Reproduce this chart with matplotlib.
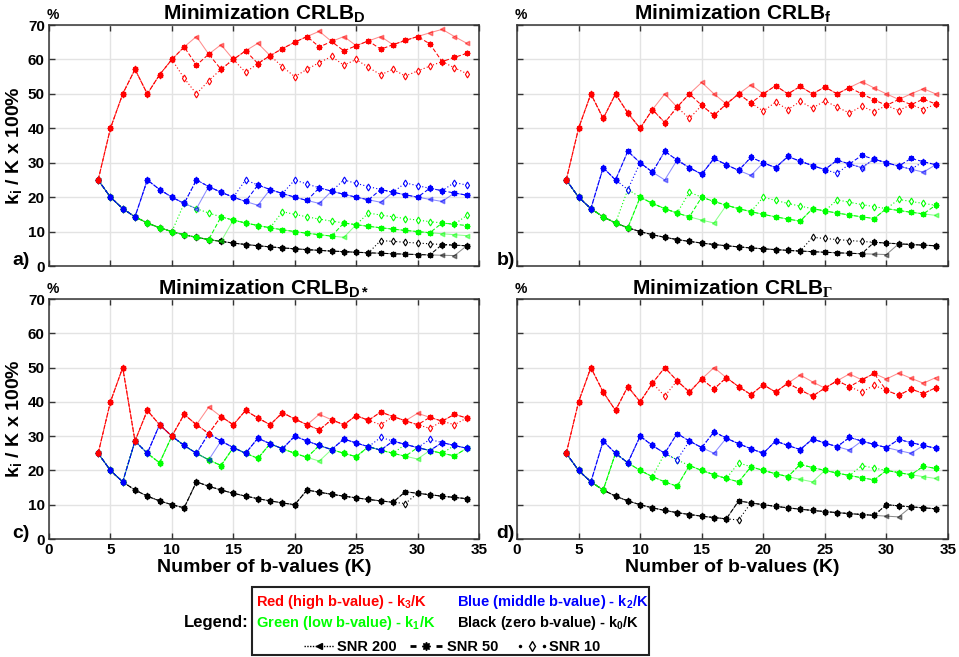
import numpy as np
import matplotlib
matplotlib.use('Agg')
import matplotlib.pyplot as plt
from matplotlib import font_manager
from matplotlib.patches import Rectangle

# number of b-values K on the x axis
K_values = list(range(4, 35))

# counts k_i of b-values per group (K = 4 ... 34)
# a) Minimization CRLB_D
a_red_200 = [1,2,3,4,4, 5,6,7,8,8, 9,9,10,11,11, 12,13,14,15,15, 16,16,17,18,18, 19,20,21,22,22, 22]
a_blue_200 = [1,1,1,1,2, 2,2,2,2,3, 3,3,3,3,4, 4,4,4,4,5, 5,5,5,5,6, 6,6,6,6,7, 7]
a_green_200 = [1,1,1,1,1, 1,1,1,1,1, 1,2,2,2,2, 2,2,2,2,2, 2,3,3,3,3, 3,3,3,3,3, 3]
a_black_200 = [1,1,1,1,1, 1,1,1,1,1, 1,1,1,1,1, 1,1,1,1,1, 1,1,1,1,1, 1,1,1,1,1, 2]
a_red_50 = [1,2,3,4,4, 5,6,7,7,8, 8,9,10,10,11, 12,13,14,14,15, 15,16,17,17,18, 19,20,20,19,20, 21]
a_blue_50 = [1,1,1,1,2, 2,2,2,3,3, 3,3,3,4,4, 4,4,4,5,5, 5,5,5,6,6, 6,6,7,7,7, 7]
a_green_50 = [1,1,1,1,1, 1,1,1,1,1, 2,2,2,2,2, 2,2,2,2,2, 3,3,3,3,3, 3,3,3,4,4, 4]
a_black_50 = [1,1,1,1,1, 1,1,1,1,1, 1,1,1,1,1, 1,1,1,1,1, 1,1,1,1,1, 1,1,1,2,2, 2]
a_red_10 = [1,2,3,4,4, 5,6,6,6,7, 8,9,9,10,11, 11,11,12,13,14, 14,15,15,15,16, 16,17,18,19,19, 19]
a_blue_10 = [1,1,1,1,2, 2,2,2,3,3, 3,3,4,4,4, 4,5,5,5,5, 6,6,6,6,6, 7,7,7,7,8, 8]
a_green_10 = [1,1,1,1,1, 1,1,2,2,2, 2,2,2,2,2, 3,3,3,3,3, 3,3,4,4,4, 4,4,4,4,4, 5]
a_black_10 = [1,1,1,1,1, 1,1,1,1,1, 1,1,1,1,1, 1,1,1,1,1, 1,1,1,2,2, 2,2,2,2,2, 2]

# b) Minimization CRLB_f
b_red_200 = [1,2,3,3,4, 4,4,5,6,6, 7,8,8,8,9, 10,10,11,11,12, 12,13,13,14,15, 15,15,15,16,17, 17]
b_blue_200 = [1,1,1,2,2, 3,3,3,3,4, 4,4,5,5,5, 5,6,6,7,7, 7,7,8,8,8, 9,9,9,9,9, 10]
b_green_200 = [1,1,1,1,1, 1,2,2,2,2, 2,2,2,3,3, 3,3,3,3,3, 4,4,4,4,4, 4,5,5,5,5, 5]
b_black_200 = [1,1,1,1,1, 1,1,1,1,1, 1,1,1,1,1, 1,1,1,1,1, 1,1,1,1,1, 1,1,2,2,2, 2]
b_red_50 = [1,2,3,3,4, 4,4,5,5,6, 7,7,7,8,9, 9,10,11,11,12, 12,13,13,14,14, 14,14,15,15,16, 16]
b_blue_50 = [1,1,1,2,2, 3,3,3,4,4, 4,4,5,5,5, 6,6,6,7,7, 7,7,8,8,9, 9,9,9,10,10, 10]
b_green_50 = [1,1,1,1,1, 1,2,2,2,2, 2,3,3,3,3, 3,3,3,3,3, 4,4,4,4,4, 4,5,5,5,5, 6]
b_black_50 = [1,1,1,1,1, 1,1,1,1,1, 1,1,1,1,1, 1,1,1,1,1, 1,1,1,1,1, 2,2,2,2,2, 2]
b_red_10 = [1,2,3,3,4, 4,4,5,5,6, 6,7,7,8,9, 9,9,10,10,11, 11,12,12,12,13, 13,14,14,15,15, 16]
b_blue_10 = [1,1,1,2,2, 2,3,3,4,4, 4,4,5,5,5, 6,6,6,7,7, 7,7,7,8,8, 9,9,9,9,10, 10]
b_green_10 = [1,1,1,1,1, 2,2,2,2,2, 3,3,3,3,3, 3,4,4,4,4, 4,4,5,5,5, 5,5,6,6,6, 6]
b_black_10 = [1,1,1,1,1, 1,1,1,1,1, 1,1,1,1,1, 1,1,1,1,1, 2,2,2,2,2, 2,2,2,2,2, 2]

# c) Minimization CRLB_D*
c_red_200 = [1,2,3,2,3, 3,3,4,4,5, 5,5,6,6,6, 7,7,7,8,8, 8,9,9,10,10, 10,11,11,11,12, 12]
c_blue_200 = [1,1,1,2,2, 3,3,3,3,3, 4,4,4,5,5, 5,6,6,6,6, 7,7,7,7,8, 8,8,8,9,9, 9]
c_green_200 = [1,1,1,2,2, 2,3,3,3,3, 3,4,4,4,5, 5,5,5,5,6, 6,6,7,7,7, 7,7,8,8,8, 9]
c_black_200 = [1,1,1,1,1, 1,1,1,2,2, 2,2,2,2,2, 2,2,3,3,3, 3,3,3,3,3, 4,4,4,4,4, 4]
c_red_50 = [1,2,3,2,3, 3,3,4,4,4, 5,5,6,6,6, 7,7,7,7,8, 8,9,9,10,10, 10,10,11,11,12, 12]
c_blue_50 = [1,1,1,2,2, 3,3,3,3,4, 4,4,4,5,5, 5,6,6,6,6, 7,7,7,7,8, 8,8,8,9,9, 9]
c_green_50 = [1,1,1,2,2, 2,3,3,3,3, 3,4,4,4,5, 5,5,5,6,6, 6,6,7,7,7, 7,8,8,8,8, 9]
c_black_50 = [1,1,1,1,1, 1,1,1,2,2, 2,2,2,2,2, 2,2,3,3,3, 3,3,3,3,3, 4,4,4,4,4, 4]
c_red_10 = [1,2,3,2,3, 3,3,4,4,4, 5,5,6,6,6, 7,7,7,7,8, 8,9,9,9,10, 10,10,10,11,11, 12]
c_blue_10 = [1,1,1,2,2, 3,3,3,3,4, 4,4,4,5,5, 5,6,6,6,6, 7,7,7,8,8, 8,8,9,9,9, 9]
c_green_10 = [1,1,1,2,2, 2,3,3,3,3, 3,4,4,4,5, 5,5,5,6,6, 6,6,7,7,7, 8,8,8,8,9, 9]
c_black_10 = [1,1,1,1,1, 1,1,1,2,2, 2,2,2,2,2, 2,2,3,3,3, 3,3,3,3,3, 3,4,4,4,4, 4]

# d) Minimization CRLB_Gamma
d_red_200 = [1,2,3,3,3, 4,4,5,6,6, 6,7,8,8,8, 8,9,9,10,11, 11,11,12,13,13, 14,14,15,15,15, 16]
d_blue_200 = [1,1,1,2,2, 2,3,3,3,4, 4,4,4,5,5, 5,5,6,6,6, 7,7,7,7,8, 8,8,8,8,9, 9]
d_green_200 = [1,1,1,1,2, 2,2,2,2,2, 3,3,3,3,3, 4,4,4,4,4, 4,5,5,5,5, 5,6,6,6,6, 6]
d_black_200 = [1,1,1,1,1, 1,1,1,1,1, 1,1,1,1,2, 2,2,2,2,2, 2,2,2,2,2, 2,2,2,3,3, 3]
d_red_50 = [1,2,3,3,3, 4,4,5,6,6, 6,7,7,8,8, 8,9,9,10,10, 10,11,12,12,13, 14,13,13,14,14, 15]
d_blue_50 = [1,1,1,2,2, 2,3,3,3,4, 4,4,5,5,5, 5,5,6,6,6, 7,7,7,8,8, 8,8,9,9,9, 9]
d_green_50 = [1,1,1,1,2, 2,2,2,2,2, 3,3,3,3,3, 4,4,4,4,5, 5,5,5,5,5, 5,6,6,6,7, 7]
d_black_50 = [1,1,1,1,1, 1,1,1,1,1, 1,1,1,1,2, 2,2,2,2,2, 2,2,2,2,2, 2,3,3,3,3, 3]
d_red_10 = [1,2,3,3,3, 4,4,5,5,6, 6,7,7,8,8, 8,9,9,10,10, 10,11,12,12,12, 13,13,13,14,14, 15]
d_blue_10 = [1,1,1,2,2, 2,3,3,3,3, 4,4,5,5,5, 5,5,6,6,6, 7,7,7,8,8, 8,8,9,9,9, 9]
d_green_10 = [1,1,1,1,2, 2,2,2,3,3, 3,3,3,3,4, 4,4,4,4,5, 5,5,5,5,6, 6,6,6,6,7, 7]
d_black_10 = [1,1,1,1,1, 1,1,1,1,1, 1,1,1,1,1, 2,2,2,2,2, 2,2,2,2,2, 2,3,3,3,3, 3]

titles = ['Minimization CRLB$_D$', 'Minimization CRLB$_f$',
          'Minimization CRLB$_{D*}$', r'Minimization CRLB$_{\mathrm{\Gamma}}$']
letters = ['a)', 'b)', 'c)', 'd)']

RED, BLUE, GREEN, BLACK = '#ff0000', '#0000ff', '#00ff00', '#000000'

names = {f.name for f in font_manager.fontManager.ttflist}
narrow = 'Liberation Sans Narrow' if 'Liberation Sans Narrow' in names else 'Liberation Sans'
lsize = 13 if narrow == 'Liberation Sans Narrow' else 10.5

plt.rcParams['font.family'] = ['Liberation Sans', 'DejaVu Sans']
plt.rcParams['font.weight'] = 'bold'
plt.rcParams['mathtext.fontset'] = 'custom'
plt.rcParams['mathtext.bf'] = 'Liberation Sans:bold'
plt.rcParams['mathtext.rm'] = 'Liberation Serif'
plt.rcParams['mathtext.default'] = 'bf'

K = np.array(K_values)

panels = [
    {'black': [(10, a_black_10), (200, a_black_200), (50, a_black_50)],
     'green': [(10, a_green_10), (200, a_green_200), (50, a_green_50)],
     'blue': [(10, a_blue_10), (200, a_blue_200), (50, a_blue_50)],
     'red': [(10, a_red_10), (200, a_red_200), (50, a_red_50)]},
    {'black': [(10, b_black_10), (200, b_black_200), (50, b_black_50)],
     'green': [(10, b_green_10), (200, b_green_200), (50, b_green_50)],
     'blue': [(10, b_blue_10), (200, b_blue_200), (50, b_blue_50)],
     'red': [(10, b_red_10), (200, b_red_200), (50, b_red_50)]},
    {'black': [(10, c_black_10), (200, c_black_200), (50, c_black_50)],
     'green': [(10, c_green_10), (200, c_green_200), (50, c_green_50)],
     'blue': [(10, c_blue_10), (200, c_blue_200), (50, c_blue_50)],
     'red': [(10, c_red_10), (200, c_red_200), (50, c_red_50)]},
    {'black': [(10, d_black_10), (200, d_black_200), (50, d_black_50)],
     'green': [(10, d_green_10), (200, d_green_200), (50, d_green_50)],
     'blue': [(10, d_blue_10), (200, d_blue_200), (50, d_blue_50)],
     'red': [(10, d_red_10), (200, d_red_200), (50, d_red_50)]},
]
colors = {'black': BLACK, 'green': GREEN, 'blue': BLUE, 'red': RED}


def snr_style(snr, col):
    if snr == 200:
        return dict(ls='-', lw=0.75, marker='<', ms=3.2, color=col, mfc=col, mec=col, alpha=0.45)
    if snr == 50:
        return dict(ls=(0, (4, 2)), lw=0.75, marker=(8, 1, 0), ms=4, color=col, mfc=col, mec=col)
    return dict(ls=(0, (1, 2)), lw=0.8, marker='d', ms=3.5, color=col, mfc='white', mec=col, mew=0.8)


fig = plt.figure(figsize=(9.59, 6.57), dpi=100)
rects = [[0.0511, 0.5951, 0.4484, 0.3668], [0.5391, 0.5951, 0.4494, 0.3668],
         [0.0511, 0.1796, 0.4484, 0.3653], [0.5391, 0.1796, 0.4494, 0.3653]]

for i, r in enumerate(rects):
    ax = fig.add_axes(r)
    for name in ['black', 'green', 'blue', 'red']:
        for snr, counts in panels[i][name]:
            ax.plot(K, 100.0 * np.array(counts) / K, **snr_style(snr, colors[name]))
    ax.set_xlim(0, 35)
    ax.set_ylim(0, 70)
    ax.set_xticks(range(0, 36, 5))
    ax.set_yticks(range(0, 71, 10))
    ax.grid(True, color='#e3e3e3', lw=1)
    ax.set_axisbelow(True)
    ax.tick_params(direction='in', top=True, right=True, length=4, width=1,
                   labelsize=11, pad=3, color='#333333')
    for s in ax.spines.values():
        s.set_color('#333333')
        s.set_linewidth(1.1)
    ax.set_title(titles[i], fontsize=15, fontweight='bold', pad=3)
    if i in (0, 2):
        ax.set_ylabel('k$_i$ / K x 100%', fontsize=14, fontweight='bold')
        ax.yaxis.set_label_coords(-0.058, 0.5)
        ax.text(-0.005, 1.012, '%', transform=ax.transAxes, fontsize=10,
                ha='left', va='bottom')
        ax.text(-0.086, 0.005, letters[i], transform=ax.transAxes, fontsize=14,
                ha='left', va='baseline')
    else:
        ax.tick_params(labelleft=False)
        ax.text(-0.005, 1.012, '%', transform=ax.transAxes, fontsize=10,
                ha='left', va='bottom')
        ax.text(-0.047, 0.005, letters[i], transform=ax.transAxes, fontsize=14,
                ha='left', va='baseline')
    if i in (0, 1):
        ax.tick_params(labelbottom=False)
    else:
        ax.set_xlabel('Number of b-values (K)', fontsize=14, fontweight='bold', labelpad=1)

# legend box drawn in pixel coordinates
lax = fig.add_axes([0, 0, 1, 1])
lax.set_xlim(0, 959)
lax.set_ylim(657, 0)
lax.axis('off')
lax.add_patch(Rectangle((252, 587), 397, 68, fill=False, lw=1.5, ec='#222222'))
lfont = dict(fontsize=lsize, fontweight='bold', family=[narrow, 'DejaVu Sans'])
lax.text(249, 627, 'Legend:', ha='right', va='baseline', fontsize=12, fontweight='bold')
lax.text(256, 606, 'Red (high b-value) - k$_3$/K', color=RED, ha='left', va='baseline', **lfont)
lax.text(457, 606, 'Blue (middle b-value) - k$_2$/K', color=BLUE, ha='left', va='baseline', **lfont)
lax.text(256, 627, 'Green (low b-value) - k$_1$/K', color=GREEN, ha='left', va='baseline', **lfont)
lax.text(457, 627, 'Black (zero b-value) - k$_0$/K', color=BLACK, ha='left', va='baseline', **lfont)

# SNR keys
lax.plot([304, 334], [646, 646], ls=(0, (1, 1)), lw=1, color='black')
lax.plot([319], [646], marker='<', ms=5, color='black')
lax.text(337, 651, 'SNR 200', ha='left', va='baseline', **lfont)
lax.plot([410, 416], [646, 646], ls='-', lw=2, color='black', solid_capstyle='butt')
lax.plot([436, 442], [646, 646], ls='-', lw=2, color='black', solid_capstyle='butt')
lax.plot([426], [646], marker=(8, 1, 0), ms=6, color='black')
lax.text(447, 651, 'SNR 50', ha='left', va='baseline', **lfont)
lax.plot([520], [646], marker='.', ms=3, color='black')
lax.plot([544], [646], marker='.', ms=3, color='black')
lax.plot([532], [646], marker='d', ms=5, mfc='white', mec='black', color='black')
lax.text(549, 651, 'SNR 10', ha='left', va='baseline', **lfont)

fig.savefig('out.png', dpi=100)
